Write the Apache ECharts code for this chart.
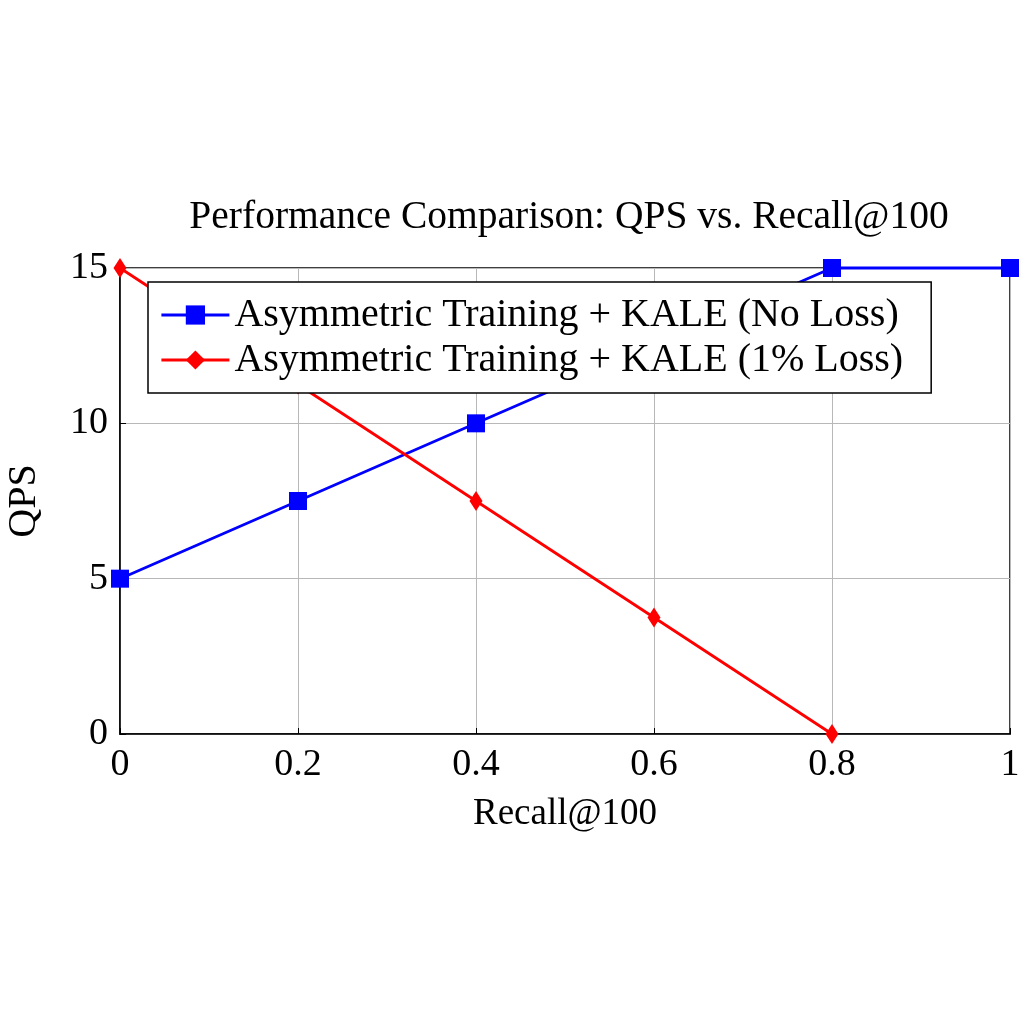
<!DOCTYPE html>
<html lang="en">
<head>
    <meta charset="UTF-8">
    <script src="https://cdn.jsdelivr.net/npm/echarts@6/dist/echarts.min.js"></script>
    <title>QPS vs Recall@100</title>
</head>
<style>
    body { margin: 0; background: #fff; }
</style>
<body>
    <div id="main" style="width: 1024px;height:1024px;"></div>
</body>
<script>
    let recall = [0, 0.2, 0.4, 0.6, 0.8, 1];
    let noLoss = [5, 7.5, 10, 12.5, 15, 15];
    let onePctLoss = [15, 11.25, 7.5, 3.75, 0];
    let seriesNames = ['Asymmetric Training + KALE (No Loss)', 'Asymmetric Training + KALE (1% Loss)'];

    let font = 'Liberation Serif';
    let myChart = echarts.init(document.getElementById('main'));
    let option = {
        animation: false,
        title: {
            text: 'Performance Comparison: QPS vs. Recall@100',
            left: 564, top: 193, textAlign: 'center',
            textStyle: { fontFamily: font, fontWeight: 'normal', fontSize: 39.5, color: '#000' }
        },
        legend: {
            data: seriesNames,
            orient: 'vertical',
            left: 148, top: 282,
            padding: [13, 28, 13, 12],
            itemGap: 5,
            itemWidth: 68, itemHeight: 24,
            borderColor: '#000', borderWidth: 1.5,
            backgroundColor: '#fff',
            lineStyle: { width: 2.8 },
            textStyle: { fontFamily: font, fontSize: 40, color: '#000' }
        },
        grid: {
            left: 120, right: 14, top: 268, bottom: 290,
            outerBoundsMode: 'none',
            containLabel: false,
            show: true, borderColor: '#000', borderWidth: 1.5
        },
        xAxis: {
            type: 'value', min: 0, max: 1, interval: 0.2,
            name: 'Recall@100', nameLocation: 'middle', nameGap: 62,
            nameTextStyle: { fontFamily: font, fontSize: 37, color: '#000' },
            axisLine: { lineStyle: { color: '#000', width: 1.5 } },
            axisTick: { inside: true, length: 6, lineStyle: { color: '#000' } },
            axisLabel: { fontFamily: font, fontSize: 38, color: '#000', margin: 12,
                formatter: v => String(v) },
            splitLine: { show: true, lineStyle: { color: '#b8b8b8', width: 1 } }
        },
        yAxis: {
            type: 'value', min: 0, max: 15, interval: 5,
            name: 'QPS', nameLocation: 'middle', nameGap: 76,
            nameTextStyle: { fontFamily: font, fontSize: 40, color: '#000' },
            axisLine: { show: true, lineStyle: { color: '#000', width: 1.5 } },
            axisTick: { show: true, inside: true, length: 6, lineStyle: { color: '#000' } },
            axisLabel: { fontFamily: font, fontSize: 38, color: '#000', margin: 12 },
            splitLine: { show: true, lineStyle: { color: '#b8b8b8', width: 1 } }
        },
        series: [
            {
                name: seriesNames[0], type: 'line', clip: false,
                data: recall.map((x, i) => [x, noLoss[i]]),
                symbol: 'rect', symbolSize: 18,
                itemStyle: { color: '#0000ff' },
                lineStyle: { color: '#0000ff', width: 2.8 },
                z: 2
            },
            {
                name: seriesNames[1], type: 'line', clip: false,
                data: onePctLoss.map((y, i) => [recall[i], y]),
                symbol: 'diamond', symbolSize: [13, 20],
                itemStyle: { color: '#ff0000' },
                lineStyle: { color: '#ff0000', width: 2.8 },
                z: 2
            }
        ]
    };
    myChart.setOption(option);
</script>
</html>
